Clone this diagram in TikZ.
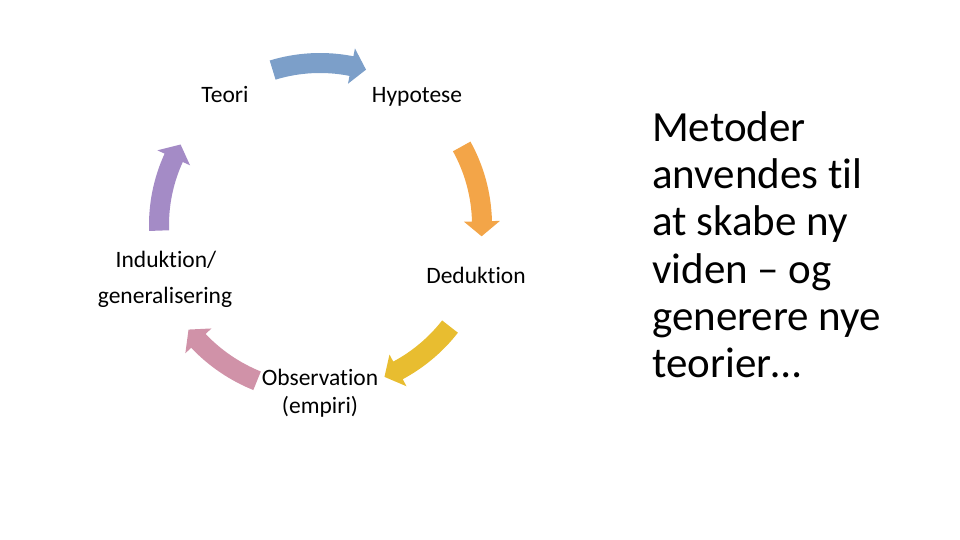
\documentclass[tikz,border=0pt]{standalone}
\usepackage{fontspec}
\setmainfont{Carlito}[Ligatures={NoCommon}]
\definecolor{cblue}{HTML}{7C9FC9}
\definecolor{corange}{HTML}{F3A548}
\definecolor{cyellow}{HTML}{E8BD30}
\definecolor{cpink}{HTML}{D092A8}
\definecolor{cpurple}{HTML}{A48BC6}
\newcommand{\cycarrow}[4]{%
  \pgfmathsetmacro{\hb}{#3+15/#4*180/pi}%
  \pgfmathsetmacro{\ro}{#4+10}%
  \pgfmathsetmacro{\ri}{#4-10}%
  \pgfmathsetmacro{\rho}{#4+18}%
  \pgfmathsetmacro{\rhi}{#4-18}%
  \fill[#1] (#2:\ro) arc[start angle=#2, end angle=\hb, radius=\ro]
    -- (\hb:\rho) -- (#3:#4) -- (\hb:\rhi) -- (\hb:\ri)
    arc[start angle=\hb, end angle=#2, radius=\ri] -- cycle;
}
\tikzset{
  lbl/.style={font=\fontsize{23.5}{28}\selectfont, inner sep=0pt, anchor=base},
  big/.style={font=\fontsize{43}{47}\selectfont, inner sep=0pt, anchor=base west}
}
\begin{document}
\begin{tikzpicture}[x=1pt,y=1pt]
\useasboundingbox (0,0) rectangle (960,540);
\begin{scope}[shift={(320,315)}]
  \cycarrow{cblue}{107}{73.5}{162}
  \cycarrow{corange}{29}{-4}{162}
  \cycarrow{cyellow}{-38}{-67}{165}
  \cycarrow{cpink}{-112}{-141.5}{168}
  \cycarrow{cpurple}{182}{150}{161}
\end{scope}
\node[lbl] (teori) at (225,437) {Teori};
\node[lbl] (hyp) at (417,437) {Hypotese};
\node[lbl] (ded) at (476,256) {Deduktion};
\node[lbl] (ind1) at (166,272) {Induktion/};
\node[lbl] (ind2) at (165,236) {generalisering};
\node[lbl] (obs1) at (320,154) {Observation};
\node[lbl] (obs2) at (320,126) {(empiri)};
\node[big] (l1) at (652,398) {Metoder};
\node[big] (l2) at (652,351) {anvendes til};
\node[big] (l3) at (652,304) {at skabe ny};
\node[big] (l4) at (652,256) {viden – og};
\node[big] (l5) at (652,209) {generere nye};
\node[big] (l6) at (652,162) {teorier…};
\end{tikzpicture}
\end{document}
